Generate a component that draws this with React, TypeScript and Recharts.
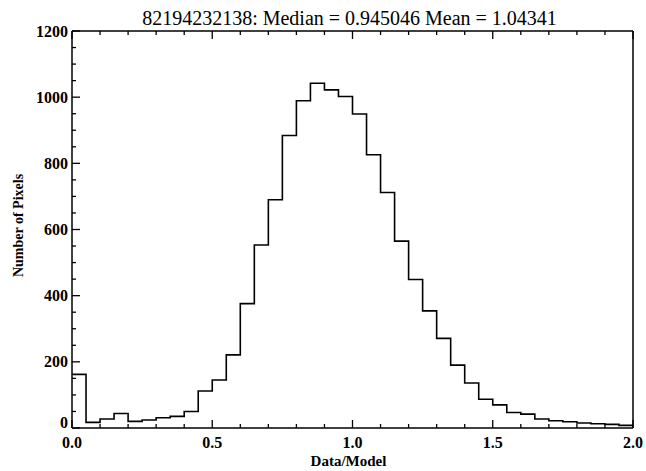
import React from "react";
import { LineChart, Line, XAxis, YAxis, Label } from "recharts";

// bin left edges (Data/Model), width 0.05
const binStarts = [
  0.0, 0.05, 0.1, 0.15, 0.2, 0.25, 0.3, 0.35, 0.4, 0.45,
  0.5, 0.55, 0.6, 0.65, 0.7, 0.75, 0.8, 0.85, 0.9, 0.95,
  1.0, 1.05, 1.1, 1.15, 1.2, 1.25, 1.3, 1.35, 1.4, 1.45,
  1.5, 1.55, 1.6, 1.65, 1.7, 1.75, 1.8, 1.85, 1.9, 1.95,
];
const binEnd = 2.0;

// number of pixels per bin
const pixelCounts = [
  162, 17, 27, 44, 20, 24, 31, 35, 50, 112,
  145, 221, 376, 553, 690, 884, 989, 1042, 1022, 1002,
  949, 826, 712, 565, 449, 354, 271, 190, 136, 87,
  70, 47, 42, 27, 22, 19, 15, 13, 11, 8,
];

const xTicks = [
  0, 0.1, 0.2, 0.3, 0.4, 0.5, 0.6, 0.7, 0.8, 0.9, 1.0,
  1.1, 1.2, 1.3, 1.4, 1.5, 1.6, 1.7, 1.8, 1.9, 2.0,
];
const xLabels = ["0.0", "0.5", "1.0", "1.5", "2.0"];
const yTicks = [
  0, 50, 100, 150, 200, 250, 300, 350, 400, 450, 500, 550, 600,
  650, 700, 750, 800, 850, 900, 950, 1000, 1050, 1100, 1150, 1200,
];

const titleText = "82194232138: Median = 0.945046 Mean = 1.04341";
const xTitle = "Data/Model";
const yTitle = "Number of Pixels";

const FONT = "'Liberation Serif', 'Times New Roman', serif";

// step data: one point per bin start, plus closing point at the right edge
const histData = binStarts.map((x, i) => ({ x, count: pixelCounts[i] }));
histData.push({ x: binEnd, count: pixelCounts[pixelCounts.length - 1] });

const isMajorX = (v: number) => Math.abs(v * 2 - Math.round(v * 2)) < 1e-6;
const isMajorY = (v: number) => v % 200 === 0;

const BottomTick = (props: any) => {
  const { x, y, payload } = props;
  const major = isMajorX(payload.value);
  const idx = Math.round(payload.value * 2);
  return (
    <g>
      <line x1={x} x2={x} y1={y} y2={y - (major ? 8 : 4)} stroke="#000" strokeWidth={1.3} />
      {major && (
        <text x={x} y={y + 20} textAnchor="middle" fontFamily={FONT} fontWeight="bold" fontSize={16} fill="#000">
          {xLabels[idx]}
        </text>
      )}
    </g>
  );
};

const TopTick = (props: any) => {
  const { x, y, payload } = props;
  const major = isMajorX(payload.value);
  return <line x1={x} x2={x} y1={y} y2={y + (major ? 8 : 4)} stroke="#000" strokeWidth={1.3} />;
};

const LeftTick = (props: any) => {
  const { x, y, payload } = props;
  const major = isMajorY(payload.value);
  // the zero label sits just above the bottom axis, as in the original plot
  const dy = payload.value === 0 ? 0 : 5.5;
  return (
    <g>
      <line x1={x} x2={x + (major ? 8 : 4)} y1={y} y2={y} stroke="#000" strokeWidth={1.3} />
      {major && (
        <text x={x - 4} y={y + dy} textAnchor="end" fontFamily={FONT} fontWeight="bold" fontSize={16} fill="#000">
          {payload.value}
        </text>
      )}
    </g>
  );
};

const RightTick = (props: any) => {
  const { x, y, payload } = props;
  const major = isMajorY(payload.value);
  return <line x1={x} x2={x - (major ? 8 : 4)} y1={y} y2={y} stroke="#000" strokeWidth={1.3} />;
};

const App: React.FC = () => {
  return (
    <div style={{ position: "absolute", left: 0, top: 0, background: "#fff" }}>
      <LineChart
        width={646}
        height={471}
        data={histData}
        margin={{ top: 30, right: 12, bottom: 0, left: 0 }}
      >
        <XAxis
          xAxisId="bottom"
          dataKey="x"
          type="number"
          domain={[0, 2]}
          ticks={xTicks}
          interval={0}
          orientation="bottom"
          height={43}
          tickSize={0}
          tickMargin={0}
          tickLine={false}
          tick={BottomTick}
          axisLine={{ stroke: "#000", strokeWidth: 1.5 }}
        >
          <Label
            content={(p: any) => {
              const vb = p.viewBox;
              return (
                <text
                  x={vb.x + vb.width / 2 - 4}
                  y={vb.y + 38}
                  textAnchor="middle"
                  fontFamily={FONT}
                  fontWeight="bold"
                  fontSize={15}
                  fill="#000"
                >
                  {xTitle}
                </text>
              );
            }}
          />
        </XAxis>
        <XAxis
          xAxisId="top"
          dataKey="x"
          type="number"
          domain={[0, 2]}
          ticks={xTicks}
          interval={0}
          orientation="top"
          height={1}
          tickSize={0}
          tickMargin={0}
          tickLine={false}
          tick={TopTick}
          axisLine={{ stroke: "#000", strokeWidth: 1.5 }}
        >
          <Label
            content={(p: any) => {
              const vb = p.viewBox;
              return (
                <text
                  x={vb.x + vb.width / 2 - 3}
                  y={vb.y + vb.height - 6}
                  textAnchor="middle"
                  fontFamily={FONT}
                  fontSize={20}
                  fill="#000"
                >
                  {titleText}
                </text>
              );
            }}
          />
        </XAxis>
        <YAxis
          yAxisId="left"
          type="number"
          domain={[0, 1200]}
          ticks={yTicks}
          interval={0}
          orientation="left"
          width={72}
          tickSize={0}
          tickMargin={0}
          tickLine={false}
          tick={LeftTick}
          axisLine={{ stroke: "#000", strokeWidth: 1.5 }}
        >
          <Label
            content={(p: any) => {
              const vb = p.viewBox;
              const cx = 18;
              const cy = vb.y + vb.height / 2 - 4;
              return (
                <text
                  x={cx}
                  y={cy}
                  transform={`rotate(-90 ${cx} ${cy})`}
                  textAnchor="middle"
                  dominantBaseline="central"
                  fontFamily={FONT}
                  fontWeight="bold"
                  fontSize={14}
                  fill="#000"
                >
                  {yTitle}
                </text>
              );
            }}
          />
        </YAxis>
        <YAxis
          yAxisId="right"
          type="number"
          domain={[0, 1200]}
          ticks={yTicks}
          interval={0}
          orientation="right"
          width={1}
          tickSize={0}
          tickMargin={0}
          tickLine={false}
          tick={RightTick}
          axisLine={{ stroke: "#000", strokeWidth: 1.5 }}
        />
        <Line
          xAxisId="bottom"
          yAxisId="left"
          type="stepAfter"
          dataKey="count"
          stroke="#000"
          strokeWidth={1.6}
          dot={false}
          activeDot={false}
          isAnimationActive={false}
        />
      </LineChart>
    </div>
  );
};

export default App;
